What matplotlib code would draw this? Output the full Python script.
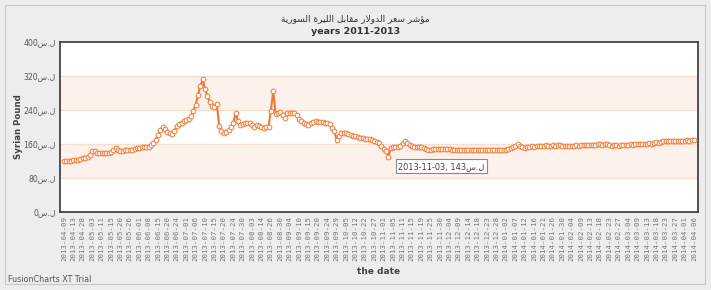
import numpy as np
import matplotlib.pyplot as plt
from matplotlib.patches import Rectangle

# title words, already shaped (presentation forms), logical order
title_words = ["\uFEE3\uFE86\uFEB7\uFEAE",
               "\uFEB3\uFECC\uFEAE",
               "\uFE8D\uFEDF\uFEAA\uFEED\uFEFB\uFEAD",
               "\uFEE3\uFED8\uFE8E\uFE91\uFEDE",
               "\uFE8D\uFEDF\uFEE0\uFEF4\uFEAE\uFE93",
               "\uFE8D\uFEDF\uFEB4\uFEEE\uFEAD\uFEF3\uFE94"]
title_ar = " ".join(title_words)[::-1]
unit = "\uFEB1.\uFEDD"   # visual "ل.س"

date_labels = ["2013-04-09", "2013-04-13", "2013-04-28", "2013-05-03", "2013-05-11", "2013-05-15",
               "2013-05-20", "2013-05-26", "2013-06-01", "2013-06-08", "2013-06-15", "2013-06-20",
               "2013-06-24", "2013-07-01", "2013-07-06", "2013-07-10", "2013-07-15", "2013-07-20",
               "2013-07-24", "2013-07-30", "2013-08-03", "2013-08-14", "2013-08-26", "2013-08-30",
               "2013-09-04", "2013-09-10", "2013-09-15", "2013-09-20", "2013-09-24", "2013-09-29",
               "2013-10-05", "2013-10-12", "2013-10-22", "2013-10-27", "2013-11-01", "2013-11-05",
               "2013-11-11", "2013-11-15", "2013-11-19", "2013-11-25", "2013-11-30", "2013-12-04",
               "2013-12-09", "2013-12-14", "2013-12-18", "2013-12-23", "2013-12-28", "2014-01-02",
               "2014-01-07", "2014-01-12", "2014-01-16", "2014-01-21", "2014-01-26", "2014-01-30",
               "2014-02-04", "2014-02-09", "2014-02-13", "2014-02-18", "2014-02-23", "2014-02-27",
               "2014-03-04", "2014-03-09", "2014-03-13", "2014-03-18", "2014-03-23", "2014-03-27",
               "2014-04-01", "2014-04-06"]
label_step = 4

price = [120, 119, 120, 121, 122, 122, 123, 124, 126, 128, 130, 135, 144, 143, 138, 139,
         138, 139, 140, 140, 141, 146, 151, 147, 144, 144, 145, 145, 146, 147, 148, 150,
         151, 152, 152, 152, 154, 157, 162, 170, 181, 193, 201, 195, 188, 185, 184, 190,
         203, 207, 210, 213, 216, 220, 226, 238, 252, 275, 296, 312, 289, 273, 258, 249,
         248, 254, 203, 190, 186, 189, 193, 200, 209, 234, 214, 205, 207, 209, 210, 210,
         205, 200, 205, 203, 200, 198, 199, 200, 238, 285, 231, 233, 236, 228, 221, 233,
         234, 233, 233, 229, 219, 215, 209, 207, 205, 210, 212, 213, 212, 212, 211, 210,
         209, 206, 198, 190, 169, 179, 186, 187, 185, 184, 182, 180, 178, 176, 174, 173,
         172, 172, 171, 170, 168, 165, 162, 155, 149, 143, 130, 150, 152, 152, 153, 156,
         163, 168, 163, 158, 155, 154, 154, 153, 152, 150, 148, 146, 147, 148, 148, 148,
         149, 149, 149, 148, 148, 147, 147, 147, 147, 147, 147, 147, 147, 147, 147, 146,
         147, 147, 147, 147, 147, 147, 147, 147, 147, 147, 146, 147, 147, 148, 150, 152,
         155, 159, 156, 152, 150, 153, 154, 155, 154, 156, 155, 156, 156, 157, 155, 156,
         157, 156, 157, 157, 156, 155, 156, 156, 155, 156, 157, 156, 157, 158, 157, 157,
         158, 157, 158, 159, 159, 158, 160, 159, 157, 156, 157, 158, 156, 157, 158, 157,
         158, 159, 158, 159, 160, 159, 160, 161, 161, 162, 161, 163, 164, 163, 165, 166,
         168, 167, 166, 167, 166, 168, 167, 167, 168, 169, 168, 169, 169]

y_ticks = [0, 80, 160, 240, 320, 400]
tip_index = 137
tip_text = "2013-11-03, 143"

fig = plt.figure(figsize=(7.11, 2.90), dpi=100, facecolor="#ededed")
fig.patches.append(Rectangle((5 / 711, 6 / 290), 700 / 711, 279 / 290, transform=fig.transFigure,
                             fill=False, edgecolor="#c8c8c8", linewidth=0.8))

ax = fig.add_axes([60 / 711, 1 - 212 / 290, 638 / 711, 170 / 290])
ax.set_facecolor("white")
x = np.arange(len(price))
ax.set_xlim(-1.7, len(price) - 1 + 1.7)
ax.set_ylim(0, 400)

# alternating bands and grid
for lo, hi in [(80, 160), (240, 320)]:
    ax.axhspan(lo, hi, color="#fdf1ec", zorder=0, lw=0)
for t in y_ticks[1:-1]:
    ax.axhline(t, color="#f8dccf", lw=0.9, zorder=1)

ax.plot(x, price, color="#ee7832", lw=1.5, zorder=3,
        marker="o", ms=3.4, mfc="white", mec="#f08040", mew=0.75)

for s in ax.spines.values():
    s.set_color("#444444")
    s.set_linewidth(1.3)

ax.set_yticks(y_ticks)
ax.set_yticklabels([f"{t}{unit}" for t in y_ticks], fontsize=5.6, color="#555555")
ax.set_xticks(x[::label_step])
ax.set_xticklabels(date_labels, rotation=90, fontsize=5.3, color="#777777",
                   family="DejaVu Sans Mono")
ax.tick_params(length=0, pad=3)

ax.set_ylabel("Syrian Pound", fontsize=6.2, fontweight="bold", color="#444444")
ax.yaxis.set_label_coords(-0.058, 0.5)
ax.set_xlabel("the date", fontsize=6.5, fontweight="bold", color="#444444", labelpad=4)

fig.text(0.5, 1 - 19 / 290, title_ar, ha="center", va="center", fontsize=6.5, color="#333333")
fig.text(0.5, 1 - 32 / 290, "years 2011-2013", ha="center", va="center", fontsize=6.8,
         fontweight="bold", color="#333333")
fig.text(8 / 711, 1 - 279 / 290, "FusionCharts XT Trial", ha="left", va="center",
         fontsize=5.8, color="#555555")

ax.annotate(f"{tip_text}{unit}", xy=(tip_index, price[tip_index]), xytext=(12, -15),
            textcoords="offset pixels", ha="left", va="center", fontsize=5.9, color="#444444",
            bbox=dict(boxstyle="square,pad=0.3", fc="white", ec="#888888", lw=0.8), zorder=5)

plt.savefig("out.png", dpi=100, facecolor=fig.get_facecolor())
